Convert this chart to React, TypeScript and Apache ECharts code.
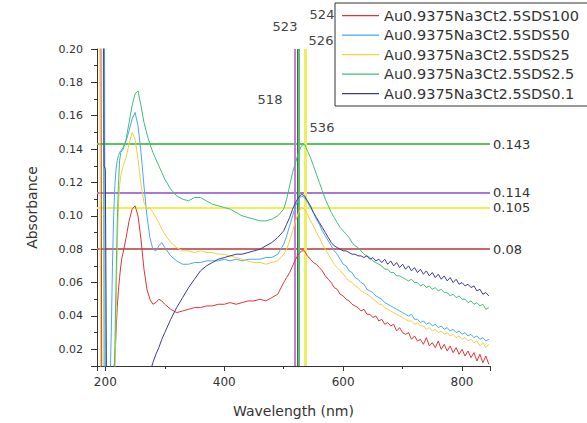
import React, { useEffect, useRef } from 'react';
import * as echarts from 'echarts';

const wavelengths = [
  186, 188, 190, 192, 194, 196, 198, 200, 202, 204, 206, 208, 210, 212, 214, 216, 218, 220, 222, 224, 226, 228, 230,
  235, 240, 245, 250, 255, 260, 265, 270, 275, 280, 285, 290, 295, 300,
  310, 320, 330, 340, 350, 360, 370, 380, 390, 400, 410, 420, 430, 440, 450, 460, 470, 480, 490, 500,
  505, 510, 515, 520, 525, 530, 535, 540, 545, 550,
  555, 560, 565, 570, 575, 580, 585, 590, 595, 600,
  605, 610, 615, 620, 625, 630, 635, 640, 645, 650,
  655, 660, 665, 670, 675, 680, 685, 690, 695, 700,
  705, 710, 715, 720, 725, 730, 735, 740, 745, 750,
  755, 760, 765, 770, 775, 780, 785, 790, 795, 800,
  805, 810, 815, 820, 825, 830, 835, 840, 845,
];

const sds100 = [
  0.3, 0.3, 0.3, 0.3, 0, 0, 0, 0, 0, 0, 0, 0, 0, 0, 0, 0.012, 0.03, 0.045, 0.055, 0.063, 0.07, 0.075, 0.078,
  0.087, 0.097, 0.104, 0.106, 0.1, 0.086, 0.068, 0.056, 0.05, 0.047, 0.048, 0.05, 0.049, 0.047,
  0.044, 0.042, 0.043, 0.044, 0.045, 0.045, 0.046, 0.046, 0.047, 0.047, 0.048, 0.047, 0.048, 0.049, 0.049, 0.05, 0.049, 0.051, 0.053, 0.06,
  0.063, 0.066, 0.07, 0.074, 0.077, 0.079, 0.079, 0.076, 0.074, 0.072,
  0.071, 0.069, 0.067, 0.064, 0.062, 0.06, 0.057, 0.056, 0.053, 0.052,
  0.05, 0.049, 0.047, 0.046, 0.045, 0.043, 0.044, 0.041, 0.041, 0.039,
  0.04, 0.037, 0.038, 0.035, 0.036, 0.034, 0.035, 0.031, 0.033, 0.03,
  0.029, 0.03, 0.026, 0.028, 0.025, 0.026, 0.023, 0.027, 0.022, 0.024,
  0.021, 0.025, 0.02, 0.023, 0.019, 0.022, 0.018, 0.021, 0.017, 0.02,
  0.016, 0.019, 0.015, 0.018, 0.013, 0.017, 0.012, 0.016, 0.011,
];

const sds50 = [
  0.3, 0.3, 0.3, 0.3, 0.3, 0.3, 0.3, 0, 0, 0, 0, 0, 0.03, 0.07, 0.1, 0.118, 0.128, 0.133, 0.136, 0.138, 0.139, 0.14, 0.141,
  0.145, 0.151, 0.158, 0.162, 0.154, 0.138, 0.118, 0.1, 0.087, 0.08, 0.079, 0.082, 0.084, 0.081,
  0.076, 0.073, 0.071, 0.071, 0.072, 0.072, 0.073, 0.073, 0.073, 0.074, 0.073, 0.074, 0.073, 0.074, 0.074, 0.074, 0.075, 0.075, 0.077, 0.083,
  0.088, 0.094, 0.1, 0.106, 0.11, 0.112, 0.111, 0.108, 0.105, 0.102,
  0.098, 0.095, 0.091, 0.088, 0.085, 0.082, 0.079, 0.077, 0.074, 0.071,
  0.07, 0.067, 0.066, 0.063, 0.062, 0.06, 0.059, 0.056, 0.055, 0.054,
  0.052, 0.051, 0.05, 0.048, 0.047, 0.046, 0.045, 0.044, 0.043, 0.042,
  0.041, 0.04, 0.041, 0.038, 0.038, 0.036, 0.037, 0.035, 0.036, 0.034,
  0.035, 0.033, 0.034, 0.032, 0.033, 0.031, 0.032, 0.03, 0.031, 0.029,
  0.03, 0.028, 0.029, 0.027, 0.028, 0.026, 0.027, 0.025, 0.026,
];

const sds25 = [
  0.3, 0.3, 0.3, 0, 0, 0, 0, 0, 0, 0, 0, 0, 0, 0, 0, 0, 0.04, 0.08, 0.105, 0.118, 0.124, 0.127, 0.13,
  0.135, 0.143, 0.15, 0.146, 0.134, 0.119, 0.108, 0.104, 0.105, 0.102, 0.099, 0.096, 0.092, 0.089,
  0.084, 0.081, 0.079, 0.079, 0.078, 0.079, 0.078, 0.078, 0.077, 0.077, 0.076, 0.075, 0.074, 0.073, 0.072, 0.072, 0.071, 0.072, 0.073, 0.077,
  0.08, 0.085, 0.091, 0.097, 0.102, 0.105, 0.104, 0.101, 0.097, 0.094,
  0.09, 0.087, 0.083, 0.08, 0.077, 0.074, 0.071, 0.069, 0.067, 0.065,
  0.063, 0.061, 0.06, 0.058, 0.057, 0.055, 0.054, 0.053, 0.052, 0.05,
  0.049, 0.047, 0.047, 0.045, 0.044, 0.043, 0.042, 0.041, 0.04, 0.039,
  0.038, 0.037, 0.037, 0.035, 0.036, 0.034, 0.034, 0.032, 0.033, 0.031,
  0.032, 0.03, 0.031, 0.029, 0.03, 0.028, 0.029, 0.027, 0.028, 0.026,
  0.027, 0.025, 0.026, 0.024, 0.025, 0.022, 0.024, 0.021, 0.023,
];

const sds2_5 = [
  0.3, 0.3, 0.3, 0.3, 0.3, 0.3, 0, 0, 0, 0, 0, 0, 0, 0, 0, 0.02, 0.06, 0.095, 0.118, 0.133, 0.138, 0.139, 0.14,
  0.146, 0.156, 0.166, 0.173, 0.175, 0.166, 0.156, 0.149, 0.143, 0.138, 0.134, 0.13, 0.126, 0.122,
  0.116, 0.112, 0.11, 0.109, 0.111, 0.111, 0.109, 0.107, 0.106, 0.105, 0.104, 0.102, 0.1, 0.099, 0.098, 0.097, 0.097, 0.098, 0.1, 0.104,
  0.11, 0.118, 0.126, 0.132, 0.138, 0.142, 0.143, 0.139, 0.135, 0.13,
  0.125, 0.12, 0.115, 0.11, 0.106, 0.102, 0.099, 0.096, 0.093, 0.091,
  0.089, 0.087, 0.084, 0.082, 0.081, 0.079, 0.077, 0.076, 0.075, 0.073,
  0.072, 0.071, 0.07, 0.068, 0.068, 0.066, 0.066, 0.064, 0.064, 0.063,
  0.062, 0.061, 0.062, 0.06, 0.06, 0.058, 0.059, 0.057, 0.058, 0.056,
  0.057, 0.055, 0.056, 0.054, 0.054, 0.052, 0.053, 0.051, 0.052, 0.05,
  0.05, 0.048, 0.049, 0.047, 0.048, 0.046, 0.047, 0.044, 0.045,
];

const sds0_1 = [
  0.3, 0.3, 0.3, 0.3, 0.3, 0.3, 0.13, 0.128, 0, 0, 0, 0, 0, 0, 0, 0, 0, 0, 0, 0, 0, 0, 0,
  0, 0, 0, 0, 0, 0, 0, 0.002, 0.006, 0.012, 0.017, 0.021, 0.026, 0.03,
  0.038, 0.045, 0.051, 0.057, 0.062, 0.067, 0.07, 0.072, 0.074, 0.075, 0.076, 0.077, 0.077, 0.078, 0.079, 0.08, 0.082, 0.084, 0.087, 0.091,
  0.095, 0.099, 0.104, 0.108, 0.111, 0.113, 0.112, 0.109, 0.106, 0.102,
  0.099, 0.096, 0.093, 0.09, 0.087, 0.084, 0.082, 0.081, 0.08, 0.079,
  0.079, 0.078, 0.077, 0.077, 0.076, 0.076, 0.075, 0.076, 0.074, 0.075,
  0.073, 0.074, 0.072, 0.074, 0.071, 0.073, 0.07, 0.072, 0.069, 0.071,
  0.068, 0.07, 0.067, 0.069, 0.066, 0.068, 0.065, 0.067, 0.064, 0.066,
  0.063, 0.065, 0.062, 0.064, 0.061, 0.063, 0.06, 0.062, 0.059, 0.06,
  0.058, 0.059, 0.057, 0.058, 0.055, 0.056, 0.053, 0.054, 0.052,
];

const seriesNames = [
  'Au0.9375Na3Ct2.5SDS100',
  'Au0.9375Na3Ct2.5SDS50',
  'Au0.9375Na3Ct2.5SDS25',
  'Au0.9375Na3Ct2.5SDS2.5',
  'Au0.9375Na3Ct2.5SDS0.1',
];
const seriesColors = ['#e03535', '#4aa8f0', '#f2d040', '#3fbf78', '#3c3c8e'];

const levelValues = [0.08, 0.105, 0.114, 0.143];
const levelColors = ['#c86a6a', '#f0f050', '#a878d8', '#5cc45c'];

const peakWavelengths = [518, 523, 524, 526, 536];
const peakColors = ['#c47fdc', '#d07090', '#4e6060', '#5cbf6c', '#eeee60'];
const peakLabelPos = [
  [270, 99],
  [285, 26],
  [322, 14],
  [321, 40],
  [322, 127],
];

const FONT = 'DejaVu Sans';
const LEGEND_LINE_ICON = 'path://M0,0 L0,0 M0,6.5 L37,6.5 L37,7.7 L0,7.7 Z M37,14 L37,14';

export default function App() {
  const ref = useRef<HTMLDivElement>(null);

  useEffect(() => {
    document.body.style.margin = '0';
    if (!ref.current) return;
    const chart = echarts.init(ref.current, null, { renderer: 'svg' });
    const all = [sds100, sds50, sds25, sds2_5, sds0_1];

    const series: any[] = all.map((vals, i) => ({
      name: seriesNames[i],
      type: 'line',
      data: wavelengths.map((w, j) => [w, vals[j]]),
      symbol: 'none',
      showSymbol: false,
      lineStyle: { width: 1, color: seriesColors[i] },
      itemStyle: { color: seriesColors[i] },
      z: 3,
    }));

    series[0].markLine = {
      silent: true,
      symbol: ['none', 'none'],
      precision: 3,
      z: 2,
      data: [
        ...levelValues.map((v, i) => ({
          yAxis: v,
          lineStyle: { color: levelColors[i], width: 2, type: 'solid' },
          label: {
            show: true,
            position: 'end',
            formatter: String(v),
            color: '#333',
            fontSize: 13,
            fontFamily: FONT,
            distance: 3,
          },
        })),
        ...peakWavelengths.map((w, i) => ({
          xAxis: w,
          lineStyle: { color: peakColors[i], width: i === 4 ? 3 : 2, type: 'solid' },
          label: { show: false },
        })),
      ],
    };

    chart.setOption({
      animation: false,
      backgroundColor: '#ffffff',
      grid: { left: 97, right: 97, top: 49, bottom: 54, containLabel: false },
      legend: {
        data: seriesNames.map((n) => ({ name: n, icon: LEGEND_LINE_ICON })),
        orient: 'vertical',
        left: 335,
        top: 3,
        padding: [5, 10, 5, 7],
        itemGap: 4.5,
        itemWidth: 37,
        itemHeight: 14,
        borderColor: '#333',
        borderWidth: 1,
        borderRadius: 0,
        backgroundColor: '#ffffff',
        z: 10,
        textStyle: { fontFamily: FONT, fontSize: 14.5, color: '#333' },
      },
      xAxis: {
        type: 'value',
        min: 186,
        max: 847,
        splitNumber: 3,
        name: 'Wavelength (nm)',
        nameLocation: 'middle',
        nameGap: 38,
        nameTextStyle: { fontFamily: FONT, fontSize: 14, color: '#333' },
        axisLine: { show: true, lineStyle: { color: '#333', width: 1 } },
        axisTick: { show: true, length: 5, lineStyle: { color: '#333' } },
        minorTick: { show: true, splitNumber: 2, length: 3, lineStyle: { color: '#333' } },
        splitLine: { show: false },
        axisLabel: {
          margin: 10,
          fontFamily: FONT,
          fontSize: 12,
          color: '#333',
          formatter: (v: number) => (Math.round(v) % 200 === 0 ? String(Math.round(v)) : ''),
        },
      },
      yAxis: {
        type: 'value',
        min: 0.01,
        max: 0.2,
        splitNumber: 10,
        name: 'Absorbance',
        nameLocation: 'middle',
        nameGap: 58,
        nameTextStyle: { fontFamily: FONT, fontSize: 14, color: '#333' },
        axisLine: { show: true, lineStyle: { color: '#333', width: 1 } },
        axisTick: { show: true, length: 6, lineStyle: { color: '#333' } },
        minorTick: { show: true, splitNumber: 2, length: 3, lineStyle: { color: '#333' } },
        splitLine: { show: false },
        axisLabel: {
          margin: 14,
          fontFamily: FONT,
          fontSize: 11,
          color: '#333',
          showMinLabel: false,
          formatter: (v: number) => (Math.abs(v - 0.01) < 1e-9 ? '' : v.toFixed(2)),
        },
      },
      graphic: peakWavelengths.map((w, i) => ({
        type: 'text',
        x: peakLabelPos[i][0],
        y: peakLabelPos[i][1],
        z: 5,
        style: {
          text: String(w),
          fill: '#444',
          fontSize: 13,
          fontFamily: FONT,
          align: 'center',
          verticalAlign: 'middle',
        },
      })),
      series,
    });

    return () => {
      chart.dispose();
    };
  }, []);

  return <div ref={ref} style={{ width: 587, height: 423 }} />;
}
